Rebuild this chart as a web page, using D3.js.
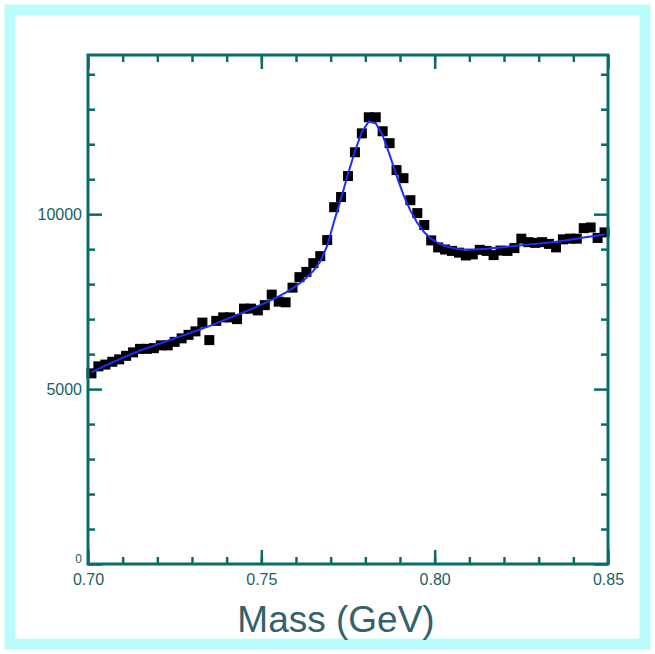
<!DOCTYPE html>
<html>
<head>
<meta charset="utf-8">
<script src="https://cdn.jsdelivr.net/npm/d3@7"></script>
<style>
  body { margin: 0; background: #fff; }
  text { font-family: "Liberation Sans", Arial, sans-serif; }
</style>
</head>
<body>
<script>
// bin centres in GeV and measured counts
var masses = d3.range(75).map(i => +(0.701 + 0.002 * i).toFixed(3));
var counts = [
  5450, 5650, 5700, 5780, 5850, 5950, 6050, 6150, 6150, 6170,
  6250, 6250, 6350, 6450, 6550, 6650, 6900, 6400, 6950, 7050,
  7050, 7000, 7300, 7300, 7250, 7400, 7700, 7500, 7480, 7900,
  8200, 8350, 8600, 8800, 9260, 10200, 10490, 11090, 11770, 12310,
  12770, 12770, 12370, 12030, 11260, 11030, 10400, 10030, 9690, 9250,
  9050, 8990, 8950, 8900, 8820, 8850, 8980, 8950, 8830, 8960,
  8950, 9030, 9300, 9200, 9180, 9200, 9150, 9050, 9280, 9300,
  9300, 9600, 9620, 9320, 9480
];
// fitted curve, same bins
var fit = [
  5480, 5580, 5670, 5760, 5850, 5940, 6020, 6100, 6170, 6240,
  6310, 6380, 6450, 6520, 6590, 6660, 6730, 6800, 6880, 6960,
  7040, 7120, 7200, 7280, 7370, 7460, 7550, 7650, 7760, 7880,
  8020, 8180, 8380, 8650, 9100, 9800, 10450, 11150, 11800, 12350,
  12650, 12600, 12250, 11700, 11100, 10550, 10100, 9750, 9480, 9300,
  9170, 9090, 9040, 9000, 8990, 8990, 9000, 9010, 9030, 9050,
  9070, 9090, 9110, 9130, 9150, 9170, 9190, 9210, 9240, 9270,
  9300, 9330, 9360, 9390, 9420
];
var xMajor = [0.70, 0.75, 0.80, 0.85];
var xLabels = ["0.70", "0.75", "0.80", "0.85"];
var xMinor = d3.range(71, 85).map(d => d / 100);
var yMajor = [0, 5000, 10000];
var yMinor = d3.range(1, 15).map(d => d * 1000).filter(d => d % 5000 != 0);

var w = 655, h = 654;
var margin = { top: 55, left: 88, bottom: 90, right: 47 };
var width = w - margin.left - margin.right;
var height = h - margin.top - margin.bottom;
var axisColor = "#0b6b6b";

var svg = d3.select("body").append("svg")
  .attr("width", w)
  .attr("height", h);

// cyan frame
svg.append("rect")
  .attr("x", 10).attr("y", 10)
  .attr("width", w - 20).attr("height", h - 20)
  .attr("fill", "#fff")
  .attr("stroke", "#bafcfc")
  .attr("stroke-width", 11);

var g = svg.append("g")
  .attr("transform", "translate(" + margin.left + "," + margin.top + ")");

var x = d3.scaleLinear().domain([0.70, 0.85]).range([0, width]);
var y = d3.scaleLinear().domain([0, 14550]).range([height, 0]);

function styleAxis(sel) {
  sel.select(".domain").remove();
  sel.selectAll(".tick line").attr("stroke", axisColor).attr("stroke-width", 2.5);
  sel.selectAll("text").attr("fill", "#215f62").attr("font-size", 16);
}

// minor ticks on all four sides
g.append("g").attr("transform", "translate(0," + height + ")")
  .call(d3.axisBottom(x).tickValues(xMinor).tickSize(-7).tickFormat(""))
  .call(styleAxis);
g.append("g")
  .call(d3.axisTop(x).tickValues(xMinor).tickSize(-7).tickFormat(""))
  .call(styleAxis);
g.append("g")
  .call(d3.axisLeft(y).tickValues(yMinor).tickSize(-7).tickFormat(""))
  .call(styleAxis);
g.append("g").attr("transform", "translate(" + width + ",0)")
  .call(d3.axisRight(y).tickValues(yMinor).tickSize(-7).tickFormat(""))
  .call(styleAxis);

// major ticks with labels
g.append("g").attr("transform", "translate(0," + height + ")")
  .call(d3.axisBottom(x).tickValues(xMajor).tickSize(-14).tickPadding(10)
    .tickFormat((d, i) => xLabels[i]))
  .call(styleAxis);
g.append("g")
  .call(d3.axisTop(x).tickValues(xMajor).tickSize(-14).tickFormat(""))
  .call(styleAxis);
g.append("g")
  .call(d3.axisLeft(y).tickValues(yMajor).tickSize(-14).tickPadding(6)
    .tickFormat(d3.format("d")))
  .call(styleAxis)
  .selectAll(".tick")
  .filter(d => d == 0)
  .select("text")
  .attr("font-size", 12)
  .attr("dy", "-0.1em");
g.append("g").attr("transform", "translate(" + width + ",0)")
  .call(d3.axisRight(y).tickValues(yMajor).tickSize(-14).tickFormat(""))
  .call(styleAxis);

// data markers
g.selectAll(".pt")
  .data(counts)
  .enter()
  .append("rect")
  .classed("pt", true)
  .attr("x", (d, i) => x(masses[i]) - 5)
  .attr("y", d => y(d) - 5)
  .attr("width", 10)
  .attr("height", 10)
  .attr("fill", "#000");

// fit line over the markers
var line = d3.line()
  .x((d, i) => x(masses[i]))
  .y(d => y(d));

g.append("path")
  .datum(fit)
  .attr("d", line)
  .attr("fill", "none")
  .attr("stroke", "#1f2cff")
  .attr("stroke-width", 2);

// plot box
g.append("rect")
  .attr("width", width)
  .attr("height", height)
  .attr("fill", "none")
  .attr("stroke", axisColor)
  .attr("stroke-width", 3);

svg.append("text")
  .attr("x", margin.left + width / 2 - 12)
  .attr("y", 632)
  .attr("text-anchor", "middle")
  .attr("font-size", 37)
  .attr("fill", "#33626a")
  .text("Mass (GeV)");
</script>
</body>
</html>
